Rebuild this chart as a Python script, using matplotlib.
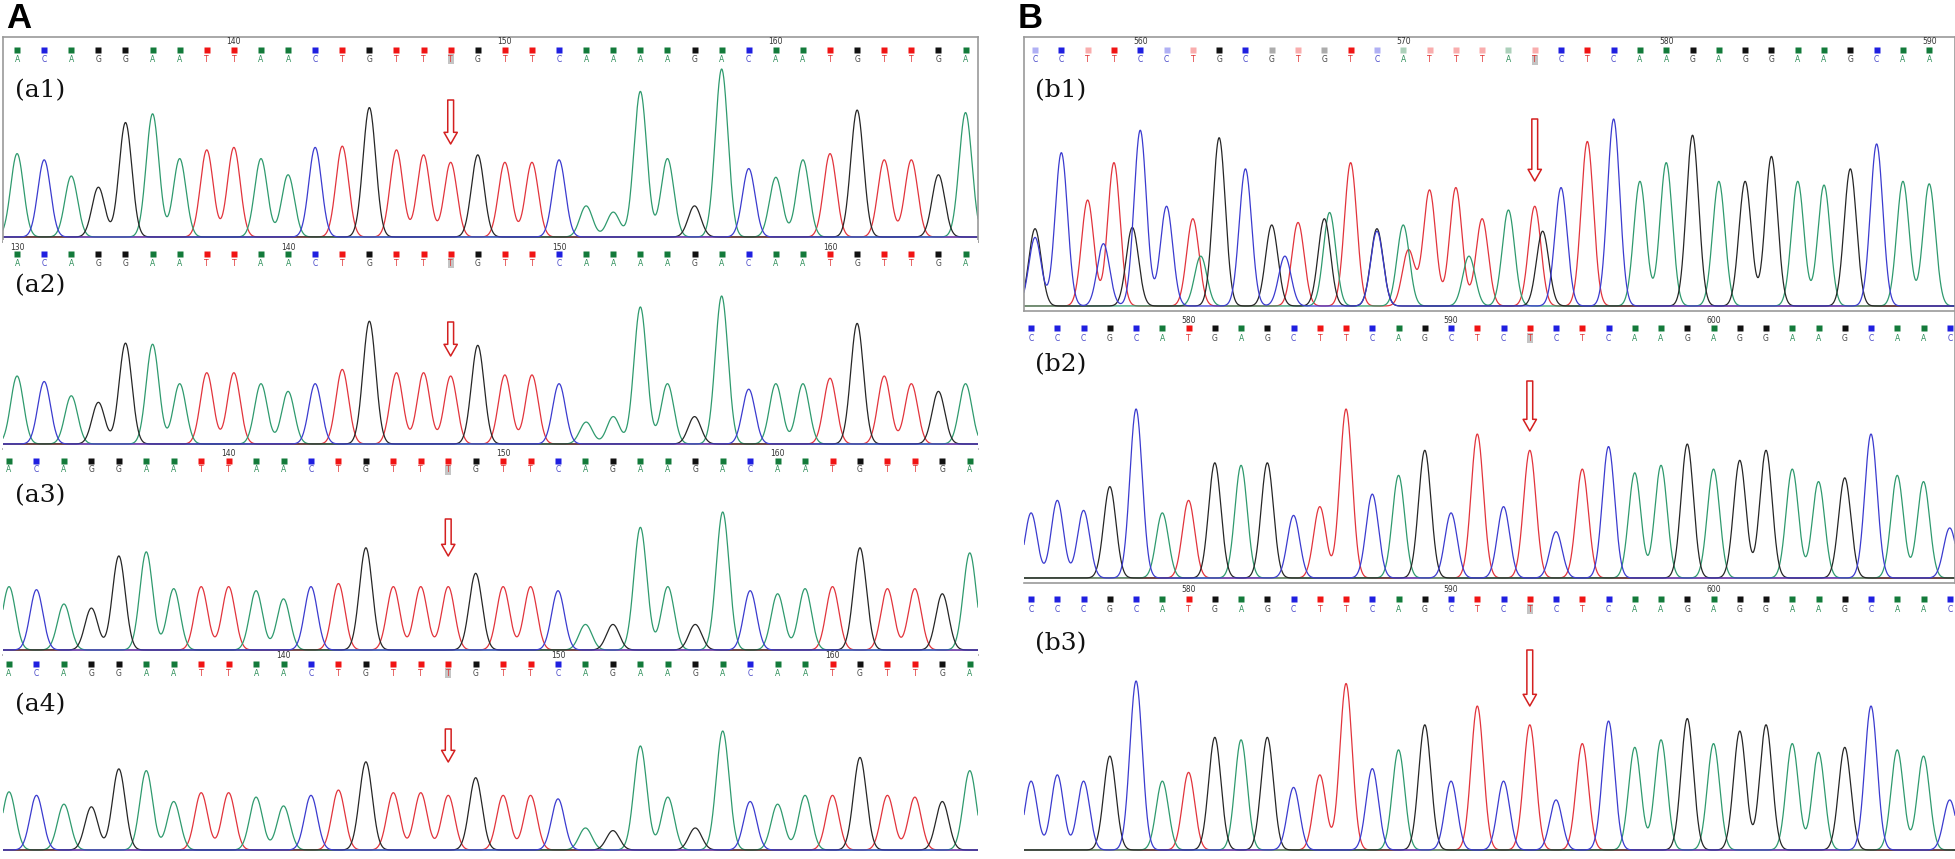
import numpy as np
import matplotlib.pyplot as plt

W, H = 1956, 859

TRACE_COLORS = {'A': '#2f9a6e', 'C': '#3b3bcf', 'G': '#262626', 'T': '#e2343c'}
SQUARE_COLORS = {'A': '#137a3a', 'C': '#1f1fe0', 'G': '#111111', 'T': '#f01414'}
LETTER_COLORS = {'A': '#2e8f5a', 'C': '#4646c8', 'G': '#444444', 'T': '#e03030'}

# base calls
A1_SEQ = list("ACAGGAATTAACTGTTTGTTCAAAAGACAATGTTGA")
A2_SEQ = list("ACAGGAATTAACTGTTTGTTCAAAAGACAATGTTGA")
A3_SEQ = list("ACAGGAATTAACTGTTTGTTCAGAAGACAATGTTGA")
A4_SEQ = list("ACAGGAATTAACTGTTTGTTCAGAAGACAATGTTGA")
B1_SEQ = list("CCTTCCTGCGTGTCATTTATCTCAAGAGGAAGCAA")
B2_SEQ = list("CCCGCATGAGCTTCAGCTCTCTCAAGAGGAAGCAAC")
B3_SEQ = list("CCCGCATGAGCTTCAGCTCTCTCAAGAGGAAGCAAC")

# numbering of the first base and the position numbers printed above
A1_START, A1_TICKS = 132, [140, 150, 160]
A2_START, A2_TICKS = 130, [130, 140, 150, 160]
A3_START, A3_TICKS = 132, [140, 150, 160]
A4_START, A4_TICKS = 130, [140, 150, 160]
B1_START, B1_TICKS = 556, [560, 570, 580, 590]
B2_START, B2_TICKS = 574, [580, 590, 600]
B3_START, B3_TICKS = 574, [580, 590, 600]

# peak heights (arbitrary units, estimated)
A1_H = [67, 62, 49, 40, 92, 99, 63, 70, 72, 63, 50, 72, 73, 104, 70, 66, 60, 66,
        60, 60, 62, 25, 20, 117, 63, 25, 135, 55, 48, 62, 67, 102, 62, 62, 50, 100]
A2_H = [62, 57, 44, 38, 92, 91, 55, 65, 65, 55, 48, 55, 68, 112, 65, 65, 62, 90,
        63, 63, 55, 20, 25, 125, 55, 25, 135, 50, 55, 55, 60, 110, 62, 55, 48, 55]
A3_H = [62, 59, 45, 41, 92, 96, 60, 62, 62, 58, 50, 62, 65, 100, 62, 62, 62, 75,
        62, 62, 58, 25, 25, 120, 62, 25, 135, 58, 55, 60, 62, 100, 60, 60, 55, 95]
A4_H = [66, 62, 52, 49, 92, 90, 55, 65, 65, 60, 50, 62, 68, 100, 65, 65, 62, 82,
        62, 62, 58, 25, 22, 118, 60, 25, 135, 55, 52, 62, 62, 105, 62, 60, 55, 90]
B1_H = [55, 123, 85, 115, 141, 80, 70, 135, 110, 65, 67, 70, 115, 60, 65, 93, 95, 70,
        77, 80, 95, 132, 150, 100, 115, 137, 100, 100, 120, 100, 97, 110, 130, 100, 98]
B2_H = [52, 62, 54, 73, 135, 52, 62, 92, 90, 92, 50, 57, 135, 67, 82, 102, 52, 115,
        57, 102, 37, 87, 105, 84, 90, 107, 87, 94, 102, 87, 77, 80, 115, 82, 77, 40]
B3_H = [55, 60, 55, 75, 135, 55, 62, 90, 88, 90, 50, 60, 133, 65, 80, 100, 55, 115,
        55, 100, 40, 85, 103, 82, 88, 105, 85, 95, 100, 85, 78, 82, 115, 80, 75, 40]

# secondary (mixed) peaks in the noisy b1 read
B1_EXTRA_POS = [0.0, 2.6, 3.7, 6.3, 9.5, 11.2, 13.0, 14.2, 16.5, 19.3]
B1_EXTRA_BASE = ['G', 'C', 'G', 'A', 'C', 'A', 'G', 'T', 'A', 'G']
B1_EXTRA_H = [62, 50, 63, 40, 40, 75, 62, 45, 40, 60]

# call quality of b1 base squares (0 = faded)
B1_QUAL = [0, 1, 0, 1, 1, 0, 0, 1, 1, 0, 0, 0, 1, 0, 0, 0, 0, 0, 0, 0, 1] + [1] * 14

MUT_A = 16
MUT_B = 19

tracks = [
    dict(name="(a1)", seq=A1_SEQ, h=A1_H, start=A1_START, ticks=A1_TICKS, mut=MUT_A,
         x0=3, x1=978, xlim=(-0.52, 35.46), top=37, tick_y=42, sq_y=50, let_y=59,
         lab_y=91, lab_x=15, base=237, peak=69, arrow=(100, 144), box="all"),
    dict(name="(a2)", seq=A2_SEQ, h=A2_H, start=A2_START, ticks=A2_TICKS, mut=MUT_A,
         x0=3, x1=978, xlim=(-0.52, 35.46), top=240, tick_y=247, sq_y=254, let_y=263,
         lab_y=286, lab_x=15, base=444, peak=296, arrow=(322, 356), box="bottom"),
    dict(name="(a3)", seq=A3_SEQ, h=A3_H, start=A3_START, ticks=A3_TICKS, mut=MUT_A,
         x0=3, x1=978, xlim=(-0.22, 35.3), top=448, tick_y=453, sq_y=461, let_y=470,
         lab_y=496, lab_x=15, base=650, peak=512, arrow=(519, 556), box="bottom"),
    dict(name="(a4)", seq=A4_SEQ, h=A4_H, start=A4_START, ticks=A4_TICKS, mut=MUT_A,
         x0=3, x1=978, xlim=(-0.22, 35.3), top=652, tick_y=656, sq_y=664, let_y=673,
         lab_y=705, lab_x=15, base=850, peak=731, arrow=(729, 762), box="none"),
    dict(name="(b1)", seq=B1_SEQ, h=B1_H, start=B1_START, ticks=B1_TICKS, mut=MUT_B,
         x0=1024, x1=1955, xlim=(-0.42, 34.98), top=37, tick_y=42, sq_y=50, let_y=60,
         lab_y=91, lab_x=1035, base=306, peak=119, arrow=(119, 181), box="all"),
    dict(name="(b2)", seq=B2_SEQ, h=B2_H, start=B2_START, ticks=B2_TICKS, mut=MUT_B,
         x0=1024, x1=1955, xlim=(-0.27, 35.2), top=312, tick_y=320, sq_y=328, let_y=338,
         lab_y=365, lab_x=1035, base=578, peak=409, arrow=(381, 431), box="bottomright"),
    dict(name="(b3)", seq=B3_SEQ, h=B3_H, start=B3_START, ticks=B3_TICKS, mut=MUT_B,
         x0=1024, x1=1955, xlim=(-0.27, 35.2), top=584, tick_y=590, sq_y=599, let_y=609,
         lab_y=644, lab_x=1035, base=850, peak=681, arrow=(650, 706), box="none"),
]

SIGMA = 0.235

fig = plt.figure(figsize=(W / 100, H / 100), dpi=100)
fig.patch.set_facecolor('white')

for t in tracks:
    bottom = t['base'] + 5
    ax = fig.add_axes([t['x0'] / W, 1 - bottom / H, (t['x1'] - t['x0']) / W, (bottom - t['top']) / H])
    ax.set_xlim(*t['xlim'])
    ax.set_ylim(bottom, t['top'])
    ax.set_xticks([])
    ax.set_yticks([])
    for side, sp in ax.spines.items():
        sp.set_color('#9a9a9a')
        sp.set_linewidth(1.2)
        if t['box'] == 'all':
            sp.set_visible(True)
        elif t['box'] == 'bottom':
            sp.set_visible(side == 'bottom')
        elif t['box'] == 'bottomright':
            sp.set_visible(side in ('bottom', 'right'))
        else:
            sp.set_visible(False)

    seq = t['seq']
    scale = (t['base'] - t['peak']) / max(t['h'])
    x = np.linspace(t['xlim'][0], t['xlim'][1], 3000)
    extras = []
    if t['name'] == '(b1)':
        extras = list(zip(B1_EXTRA_POS, B1_EXTRA_BASE, B1_EXTRA_H))
    for b in ['T', 'A', 'G', 'C']:
        y = np.zeros_like(x)
        for i, (s, h) in enumerate(zip(seq, t['h'])):
            if s == b:
                y += h * np.exp(-0.5 * ((x - i) / SIGMA) ** 2)
        for p, s, h in extras:
            if s == b:
                y += h * np.exp(-0.5 * ((x - p) / SIGMA) ** 2)
        ax.plot(x, t['base'] - y * scale, color=TRACE_COLORS[b], lw=0.9, zorder=2)

    # base call row
    for i, s in enumerate(seq):
        alpha = 1.0
        if t['name'] == '(b1)' and B1_QUAL[i] == 0:
            alpha = 0.35
        ax.plot(i, t['sq_y'], 's', ms=4.2, color=SQUARE_COLORS[s], alpha=alpha, mec='none', zorder=3)
        kw = {}
        if i == t['mut']:
            kw['bbox'] = dict(facecolor='#c4c4c4', edgecolor='none', pad=0.6)
        ax.text(i, t['let_y'], s, color=LETTER_COLORS[s], fontsize=5.5, ha='center', va='center', **kw)
    for tk in t['ticks']:
        ax.text(tk - t['start'], t['tick_y'], str(tk), color='#333333', fontsize=5.5,
                ha='center', va='center')

    # mutation arrow
    m = t['mut']
    ax.annotate('', xy=(m, t['arrow'][1]), xytext=(m, t['arrow'][0]),
                arrowprops=dict(arrowstyle='simple,head_length=0.7,head_width=0.8,tail_width=0.35',
                                fc='white', ec='#d42020', lw=1.1, mutation_scale=12,
                                shrinkA=0, shrinkB=0), zorder=5)

    fig.text(t['lab_x'] / W, 1 - t['lab_y'] / H, t['name'], fontsize=18, family='DejaVu Serif',
             ha='left', va='center', color='#111111')

fig.text(6 / W, 1 - 19 / H, "A", fontsize=25, fontweight='bold', family='Liberation Sans',
         ha='left', va='center')
fig.text(1018 / W, 1 - 19 / H, "B", fontsize=25, fontweight='bold', family='Liberation Sans',
         ha='left', va='center')

fig.savefig("out.png", dpi=100, facecolor='white')
